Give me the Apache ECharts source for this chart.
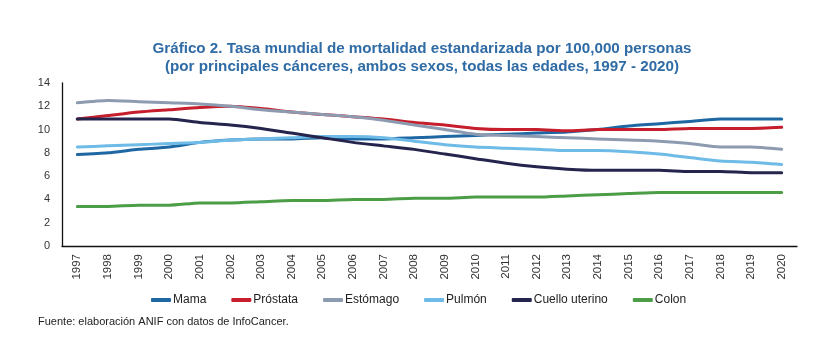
<!DOCTYPE html>
<html>
<head>
<meta charset="utf-8">
<script src="https://cdn.jsdelivr.net/npm/echarts@6/dist/echarts.min.js"></script>
<style>html,body{margin:0;padding:0;background:#fff}#c{width:822px;height:358px}</style>
</head>
<body>
<div id="c"></div>
<script>
const years = ['1997','1998','1999','2000','2001','2002','2003','2004','2005','2006','2007','2008','2009','2010','2011','2012','2013','2014','2015','2016','2017','2018','2019','2020'];
const yTicks = [0, 2, 4, 6, 8, 10, 12, 14];
const mama     = [7.85, 8.0, 8.3, 8.5, 8.9, 9.1, 9.2, 9.2, 9.3, 9.2, 9.2, 9.3, 9.4, 9.5, 9.6, 9.7, 9.8, 10.0, 10.3, 10.5, 10.7, 10.9, 10.9, 10.9];
const prostata = [10.9, 11.2, 11.5, 11.7, 11.9, 12.0, 11.8, 11.5, 11.3, 11.1, 10.9, 10.6, 10.4, 10.1, 10.0, 10.0, 9.9, 10.0, 10.0, 10.0, 10.1, 10.1, 10.1, 10.2];
const estomago = [12.3, 12.5, 12.4, 12.3, 12.2, 12.0, 11.7, 11.5, 11.3, 11.1, 10.8, 10.4, 10.0, 9.6, 9.5, 9.4, 9.3, 9.2, 9.1, 9.0, 8.8, 8.5, 8.5, 8.3];
const pulmon   = [8.5, 8.6, 8.7, 8.8, 8.9, 9.1, 9.2, 9.3, 9.4, 9.4, 9.3, 9.0, 8.7, 8.5, 8.4, 8.3, 8.2, 8.2, 8.1, 7.9, 7.6, 7.3, 7.2, 7.0];
const cuello   = [10.9, 10.9, 10.9, 10.9, 10.6, 10.4, 10.1, 9.7, 9.3, 8.9, 8.6, 8.3, 7.9, 7.5, 7.1, 6.8, 6.6, 6.5, 6.5, 6.5, 6.4, 6.4, 6.3, 6.3];
const colon    = [3.4, 3.4, 3.5, 3.5, 3.7, 3.7, 3.8, 3.9, 3.9, 4.0, 4.0, 4.1, 4.1, 4.2, 4.2, 4.2, 4.3, 4.4, 4.5, 4.6, 4.6, 4.6, 4.6, 4.6];

const seriesDefs = [
  ['Mama', mama, '#1f67a3'],
  ['Próstata', prostata, '#c61e2c'],
  ['Estómago', estomago, '#8d9bb0'],
  ['Pulmón', pulmon, '#6dbbe6'],
  ['Cuello uterino', cuello, '#24244d'],
  ['Colon', colon, '#4b9e45']
];

const chart = echarts.init(document.getElementById('c'), null, {renderer: 'canvas'});
chart.setOption({
  animation: false,
  backgroundColor: '#fff',
  title: {
    text: 'Gráfico 2. Tasa mundial de mortalidad estandarizada por 100,000 personas\n(por principales cánceres, ambos sexos, todas las edades, 1997 - 2020)',
    left: 417, top: 35, textAlign: 'center',
    textStyle: {fontFamily: 'Liberation Sans', fontWeight: 'bold', fontSize: 15.2, color: '#2f6ba5', lineHeight: 18}
  },
  legend: {
    data: seriesDefs.map(s => s[0]),
    left: 146, top: 289,
    icon: 'roundRect', itemWidth: 20, itemHeight: 4, itemGap: 25,
    textStyle: {fontFamily: 'Liberation Sans Narrow, Liberation Sans', fontSize: 12, color: '#222', padding: [0,0,0,-3]}
  },
  graphic: [{
    type: 'text', left: 38, top: 316,
    style: {text: 'Fuente: elaboración ANIF con datos de InfoCancer.', font: '11px "Liberation Sans Narrow", "Liberation Sans"', fill: '#222'}
  }],
  grid: {left: 62, right: 25, top: 83, bottom: 112, containLabel: false},
  xAxis: {
    type: 'category', data: years, boundaryGap: true,
    axisLine: {lineStyle: {color: '#111', width: 1.3}},
    axisTick: {show: false},
    axisLabel: {rotate: 90, fontFamily: 'Liberation Sans', fontSize: 11.5, color: '#333', margin: 8, interval: 0}
  },
  yAxis: {
    type: 'value', min: yTicks[0], max: yTicks[yTicks.length-1], interval: 2,
    axisLine: {show: true, lineStyle: {color: '#111', width: 1.3}},
    axisTick: {show: false},
    splitLine: {show: false},
    axisLabel: {fontFamily: 'Liberation Sans', fontSize: 11, color: '#333', margin: 12}
  },
  series: seriesDefs.map(s => ({
    name: s[0], type: 'line', data: s[1], smooth: 0.2,
    symbol: 'none', showSymbol: false,
    lineStyle: {color: s[2], width: 3, cap: 'round'},
    itemStyle: {color: s[2]}
  }))
});
</script>
</body>
</html>
